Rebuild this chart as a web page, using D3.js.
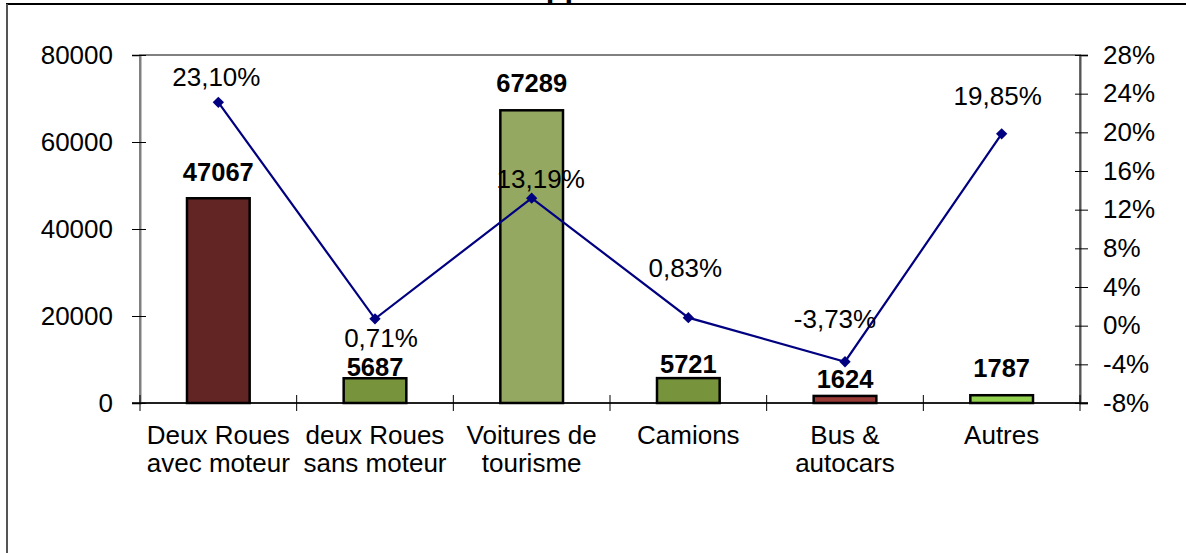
<!DOCTYPE html>
<html><head><meta charset="utf-8">
<script src="https://cdn.jsdelivr.net/npm/d3@7"></script>
<style>
html,body{margin:0;padding:0;background:#fff;}
svg{display:block;font-family:"Liberation Sans",Arial,Helvetica,sans-serif;}
</style></head>
<body><svg id="c" width="1186" height="553"></svg>
<script>
// ---- data ----
const categories = [["Deux Roues","avec moteur"],["deux Roues","sans moteur"],["Voitures de","tourisme"],["Camions"],["Bus &","autocars"],["Autres"]];
const counts = [47067, 5687, 67289, 5721, 1624, 1787];
const growth = [0.2310, 0.0071, 0.1319, 0.0083, -0.0373, 0.1985];
const countTicks = [0, 20000, 40000, 60000, 80000];
const growthTicks = [-0.08, -0.04, 0, 0.04, 0.08, 0.12, 0.16, 0.20, 0.24, 0.28];
const titleText = "Développement";

// ---- styles / layout ----
const barColors = ["#632523", "#77933C", "#94A862", "#77933C", "#983A36", "#92D050"];
const countLabelGap = [17.6, 2.5, 18, 5, 7.5, 18];
const growthLabelShift = [[-2,-16],[6,28.5],[9,-10.5],[-3,-41],[-10,-34],[-4,-29]];

const svg = d3.select("#c");
const L = 140, R = 1080, T = 55, B = 403;
const fs = 26, fsB = 25.5;

// outer frame
svg.append("rect").attr("x",7).attr("y",4).attr("width",1300).attr("height",700)
  .attr("fill","none").attr("stroke","#000").attr("stroke-width",2);
svg.append("line").attr("x1",7).attr("x2",7).attr("y1",4).attr("y2",553).attr("stroke","#555").attr("stroke-width",2);

// title (mostly above the window, as in the reference)
svg.append("text").attr("x",444).attr("y",-2).attr("font-size",31).attr("font-weight","bold").text(titleText);

const x = d3.scaleBand().domain(d3.range(categories.length)).range([L,R]).paddingInner(0).paddingOuter(0);
const yL = d3.scaleLinear().domain([0,80000]).range([B,T]);
const yR = d3.scaleLinear().domain([-0.08,0.28]).range([B,T]);

const loc = d3.formatLocale({decimal:",",thousands:" ",grouping:[3],currency:["","€"],minus:"-"});
const pct0 = loc.format(".0%");
const pct2 = loc.format(".2%");

// plot area border
svg.append("rect").attr("x",L).attr("y",T).attr("width",R-L).attr("height",B-T)
  .attr("fill","none").attr("stroke","#808080").attr("stroke-width",2);

// bars
const bw = x.bandwidth()*0.4;
svg.append("g").selectAll("rect").data(counts).join("rect")
  .attr("x",(d,i)=>x(i)+x.bandwidth()/2-bw/2)
  .attr("y",d=>yL(d))
  .attr("width",bw)
  .attr("height",d=>B-yL(d))
  .attr("fill",(d,i)=>barColors[i])
  .attr("stroke","#000").attr("stroke-width",2.5);

// left axis
const gl = svg.append("g").attr("transform",`translate(${L},0)`)
  .call(d3.axisLeft(yL).tickValues(countTicks).tickSize(8).tickFormat(d3.format("d")).tickPadding(19));
gl.select(".domain").attr("stroke","#808080").attr("stroke-width",2);
gl.selectAll(".tick line").attr("x2",6).attr("x1",-8).attr("stroke","#000");
gl.selectAll(".tick text").attr("font-size",fs).attr("font-family",null).attr("fill","#000");

// right axis
const gr = svg.append("g").attr("transform",`translate(${R},0)`)
  .call(d3.axisRight(yR).tickValues(growthTicks).tickSize(8).tickFormat(pct0).tickPadding(15));
gr.select(".domain").attr("stroke","#555").attr("stroke-width",2);
gr.selectAll(".tick line").attr("x1",-5).attr("x2",8).attr("stroke","#000");
gr.selectAll(".tick text").attr("font-size",fs).attr("font-family",null).attr("fill","#000");

// x axis
const gx = svg.append("g").attr("transform",`translate(0,${B})`);
gx.append("line").attr("x1",L-8).attr("x2",R+8).attr("stroke","#000").attr("stroke-width",1.5);
gx.selectAll("line.t").data(d3.range(categories.length+1)).join("line").attr("class","t")
  .attr("x1",i=>L+i*x.bandwidth()).attr("x2",i=>L+i*x.bandwidth())
  .attr("y1",-8).attr("y2",8).attr("stroke","#000");
const cl = svg.append("g").selectAll("text").data(categories).join("text")
  .attr("text-anchor","middle").attr("font-size",fs)
  .attr("x",(d,i)=>x(i)+x.bandwidth()/2).attr("y",444);
cl.selectAll("tspan").data(d=>d).join("tspan")
  .attr("x",function(){return this.parentNode.getAttribute("x");})
  .attr("dy",(d,j)=>j===0?0:27.7).text(d=>d);

// line
const cx = i=>x(i)+x.bandwidth()/2;
svg.append("path").datum(growth)
  .attr("d",d3.line().x((d,i)=>cx(i)).y(d=>yR(d)))
  .attr("fill","none").attr("stroke","#000080").attr("stroke-width",2.2);
svg.append("g").selectAll("path").data(growth).join("path")
  .attr("d",d3.symbol(d3.symbolSquare,64))
  .attr("transform",(d,i)=>`translate(${cx(i)},${yR(d)}) rotate(45)`)
  .attr("fill","#000080");

// growth labels
svg.append("g").selectAll("text").data(growth).join("text")
  .attr("text-anchor","middle").attr("font-size",fs)
  .attr("x",(d,i)=>cx(i)+growthLabelShift[i][0])
  .attr("y",(d,i)=>yR(d)+growthLabelShift[i][1])
  .text(d=>pct2(d));

// count labels
svg.append("g").selectAll("text").data(counts).join("text")
  .attr("text-anchor","middle").attr("font-size",fsB).attr("font-weight","bold")
  .attr("x",(d,i)=>cx(i))
  .attr("y",(d,i)=>yL(d)-countLabelGap[i])
  .text(d=>d);
</script></body></html>
